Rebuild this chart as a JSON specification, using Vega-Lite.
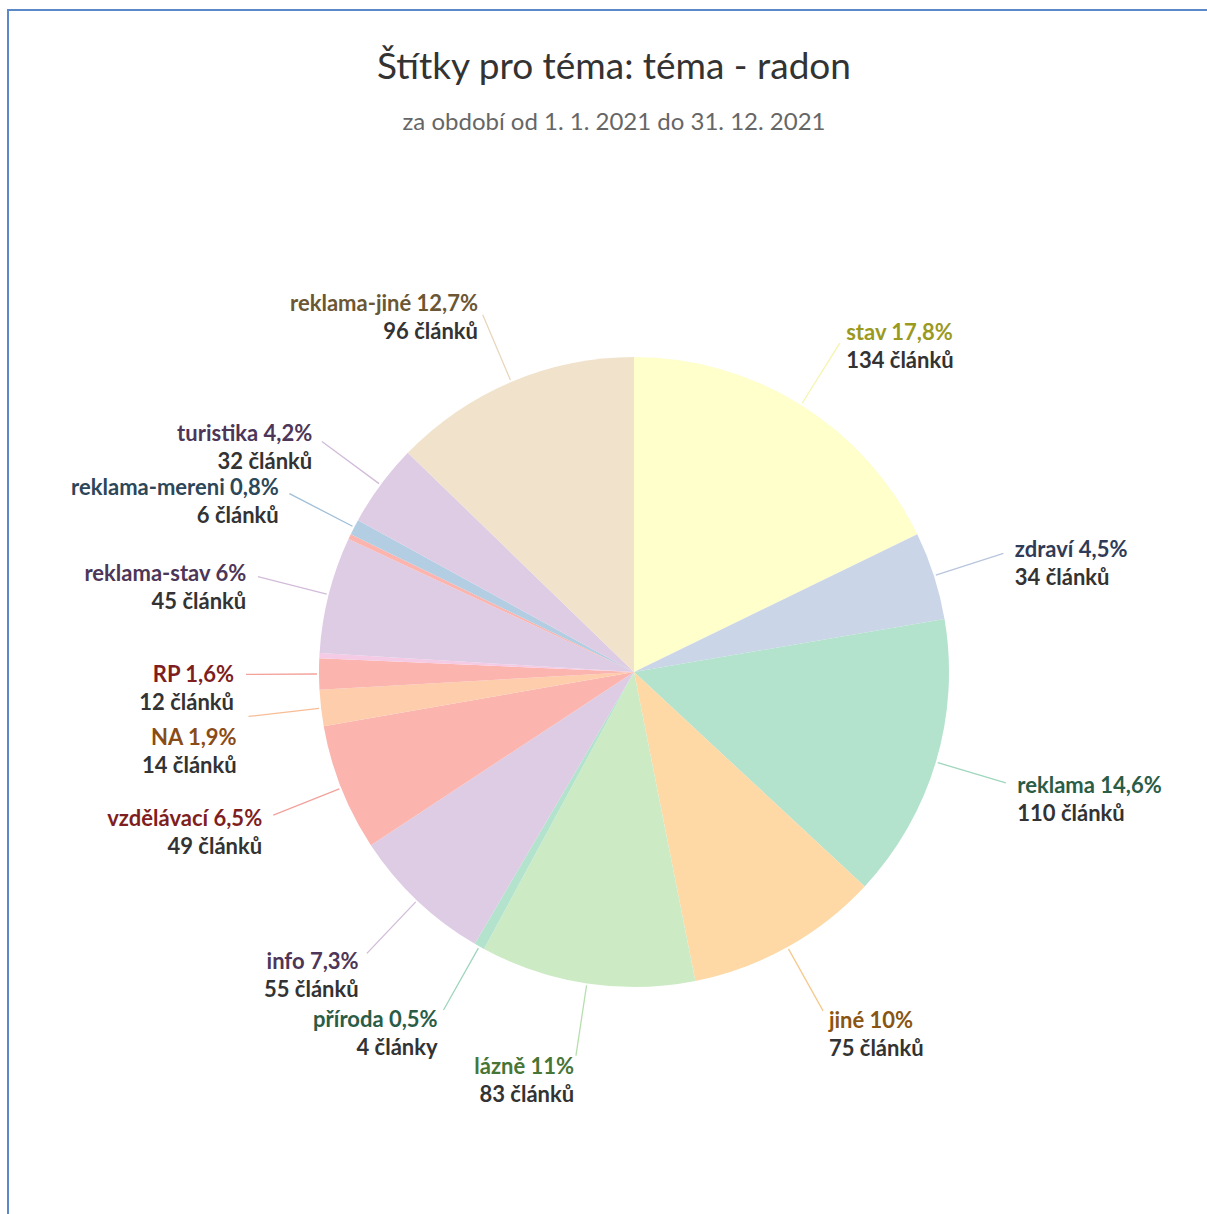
{
  "$schema": "https://vega.github.io/schema/vega-lite/v6.json",
  "autosize": {"type": "none"},
  "width": 1252,
  "height": 1324,
  "padding": {"left": 8, "top": 10, "right": -53, "bottom": -120},
  "background": "white",
  "config": {
    "text": {"font": "Lato"}
  },
  "title": {
    "text": "Štítky pro téma: téma - radon",
    "subtitle": "za období od 1. 1. 2021 do 31. 12. 2021",
    "frame": "group",
    "anchor": "middle",
    "offset": -127,
    "dx": -20,
    "font": "Lato",
    "fontSize": 37,
    "fontWeight": "normal",
    "color": "#333333",
    "subtitleFont": "Lato",
    "subtitleFontSize": 24,
    "subtitleColor": "#666666",
    "subtitlePadding": 24
  },
  "data": {
    "values": [
      {"order": 1, "name": "stav", "count": 134, "label": "stav 17,8%", "cnt": "134 článků"},
      {"order": 2, "name": "zdraví", "count": 34, "label": "zdraví 4,5%", "cnt": "34 článků"},
      {"order": 3, "name": "reklama", "count": 110, "label": "reklama 14,6%", "cnt": "110 článků"},
      {"order": 4, "name": "jiné", "count": 75, "label": "jiné 10%", "cnt": "75 článků"},
      {"order": 5, "name": "lázně", "count": 83, "label": "lázně 11%", "cnt": "83 článků"},
      {"order": 6, "name": "příroda", "count": 4, "label": "příroda 0,5%", "cnt": "4 články"},
      {"order": 7, "name": "info", "count": 55, "label": "info 7,3%", "cnt": "55 článků"},
      {"order": 8, "name": "vzdělávací", "count": 49, "label": "vzdělávací 6,5%", "cnt": "49 článků"},
      {"order": 9, "name": "NA", "count": 14, "label": "NA 1,9%", "cnt": "14 článků"},
      {"order": 10, "name": "RP", "count": 12, "label": "RP 1,6%", "cnt": "12 článků"},
      {"order": 11, "name": "bez popisku 1", "count": 2, "label": "", "cnt": ""},
      {"order": 12, "name": "reklama-stav", "count": 45, "label": "reklama-stav 6%", "cnt": "45 článků"},
      {"order": 13, "name": "bez popisku 2", "count": 2, "label": "", "cnt": ""},
      {"order": 14, "name": "reklama-mereni", "count": 6, "label": "reklama-mereni 0,8%", "cnt": "6 článků"},
      {"order": 15, "name": "turistika", "count": 32, "label": "turistika 4,2%", "cnt": "32 článků"},
      {"order": 16, "name": "reklama-jiné", "count": 96, "label": "reklama-jiné 12,7%", "cnt": "96 článků"}
    ]
  },
  "resolve": {"scale": {"color": "independent"}},
  "layer": [
    {
      "data": {"values": [{}]},
      "mark": {"type": "rect", "fillOpacity": 0, "stroke": "#5b88c8", "strokeWidth": 2},
      "encoding": {}
    },
    {
      "mark": {"type": "arc", "outerRadius": 315},
      "encoding": {
        "theta": {"field": "count", "type": "quantitative", "stack": true},
        "order": {"field": "order", "type": "quantitative"},
        "color": {
          "field": "name", "type": "nominal", "legend": null,
          "scale": {
            "domain": ["stav", "zdraví", "reklama", "jiné", "lázně", "příroda", "info", "vzdělávací", "NA", "RP", "bez popisku 1", "reklama-stav", "bez popisku 2", "reklama-mereni", "turistika", "reklama-jiné"],
            "range": ["#ffffcc", "#cbd5e8", "#b3e2cd", "#fed9a6", "#ccebc5", "#b3e2cd", "#decbe4", "#fbb4ae", "#fdcdac", "#fbb4ae", "#f4cae4", "#decbe4", "#fbb4ae", "#b3cde3", "#decbe4", "#f1e2cc"]
          }
        }
      }
    },
    {
      "mark": {"type": "arc", "innerRadius": 317, "outerRadius": 388, "padAngle": 3, "filled": false, "strokeWidth": 1.3},
      "encoding": {
        "theta": {"field": "count", "type": "quantitative", "stack": true},
        "order": {"field": "order", "type": "quantitative"},
        "color": {
          "field": "name", "type": "nominal", "legend": null,
          "scale": {
            "domain": ["stav", "zdraví", "reklama", "jiné", "lázně", "příroda", "info", "vzdělávací", "NA", "RP", "bez popisku 1", "reklama-stav", "bez popisku 2", "reklama-mereni", "turistika", "reklama-jiné"],
            "range": ["#f5f5b0", "#b9c5dd", "#9fd6bd", "#f6c98e", "#b7dfae", "#9fd6bd", "#d2bcd9", "#f3a29b", "#f7bd95", "#f3a29b", "#f4cae4", "#d2bcd9", "#fbb4ae", "#9fbfd9", "#d2bcd9", "#e8d6bb"]
          }
        },
        "strokeOpacity": {"condition": {"test": "datum.label === ''", "value": 0}, "value": 1}
      }
    },
    {
      "mark": {"type": "text", "radius": 400, "align": "left", "baseline": "middle", "fontSize": 22, "fontWeight": "bold", "font": "Lato"},
      "encoding": {
        "theta": {"field": "count", "type": "quantitative", "stack": true},
        "order": {"field": "order", "type": "quantitative"},
        "text": {"condition": {"test": "datum.order <= 4", "field": "label", "type": "nominal"}, "value": ""},
        "color": {
          "field": "name", "type": "nominal", "legend": null,
          "scale": {
            "domain": ["stav", "zdraví", "reklama", "jiné", "lázně", "příroda", "info", "vzdělávací", "NA", "RP", "bez popisku 1", "reklama-stav", "bez popisku 2", "reklama-mereni", "turistika", "reklama-jiné"],
            "range": ["#9a9a1e", "#2f3b57", "#2a5c46", "#8a5512", "#477536", "#2a5c46", "#4d3657", "#7e1e1e", "#8a4c17", "#7e1e1e", "#333333", "#4d3657", "#333333", "#2c4759", "#4d3657", "#6b5733"]
          }
        }
      }
    },
    {
      "mark": {"type": "text", "radius": 400, "align": "right", "baseline": "middle", "fontSize": 22, "fontWeight": "bold", "font": "Lato"},
      "encoding": {
        "theta": {"field": "count", "type": "quantitative", "stack": true},
        "order": {"field": "order", "type": "quantitative"},
        "text": {"condition": {"test": "datum.order > 4 && datum.name !== 'NA'", "field": "label", "type": "nominal"}, "value": ""},
        "color": {
          "field": "name", "type": "nominal", "legend": null,
          "scale": {
            "domain": ["stav", "zdraví", "reklama", "jiné", "lázně", "příroda", "info", "vzdělávací", "NA", "RP", "bez popisku 1", "reklama-stav", "bez popisku 2", "reklama-mereni", "turistika", "reklama-jiné"],
            "range": ["#9a9a1e", "#2f3b57", "#2a5c46", "#8a5512", "#477536", "#2a5c46", "#4d3657", "#7e1e1e", "#8a4c17", "#7e1e1e", "#333333", "#4d3657", "#333333", "#2c4759", "#4d3657", "#6b5733"]
          }
        }
      }
    },
    {
      "mark": {"type": "text", "radius": 400, "align": "right", "baseline": "middle", "dy": 20, "fontSize": 22, "fontWeight": "bold", "font": "Lato", "color": "#8a4c17"},
      "encoding": {
        "theta": {"field": "count", "type": "quantitative", "stack": true},
        "order": {"field": "order", "type": "quantitative"},
        "text": {"condition": {"test": "datum.name === 'NA'", "field": "label", "type": "nominal"}, "value": ""}
      }
    },
    {
      "mark": {"type": "text", "radius": 400, "align": "left", "baseline": "middle", "dy": 28, "fontSize": 22, "fontWeight": "bold", "font": "Lato", "color": "#333333"},
      "encoding": {
        "theta": {"field": "count", "type": "quantitative", "stack": true},
        "order": {"field": "order", "type": "quantitative"},
        "text": {"condition": {"test": "datum.order <= 4", "field": "cnt", "type": "nominal"}, "value": ""}
      }
    },
    {
      "mark": {"type": "text", "radius": 400, "align": "right", "baseline": "middle", "dy": 28, "fontSize": 22, "fontWeight": "bold", "font": "Lato", "color": "#333333"},
      "encoding": {
        "theta": {"field": "count", "type": "quantitative", "stack": true},
        "order": {"field": "order", "type": "quantitative"},
        "text": {"condition": {"test": "datum.order > 4 && datum.name !== 'NA'", "field": "cnt", "type": "nominal"}, "value": ""}
      }
    },
    {
      "mark": {"type": "text", "radius": 400, "align": "right", "baseline": "middle", "dy": 48, "fontSize": 22, "fontWeight": "bold", "font": "Lato", "color": "#333333"},
      "encoding": {
        "theta": {"field": "count", "type": "quantitative", "stack": true},
        "order": {"field": "order", "type": "quantitative"},
        "text": {"condition": {"test": "datum.name === 'NA'", "field": "cnt", "type": "nominal"}, "value": ""}
      }
    }
  ]
}
